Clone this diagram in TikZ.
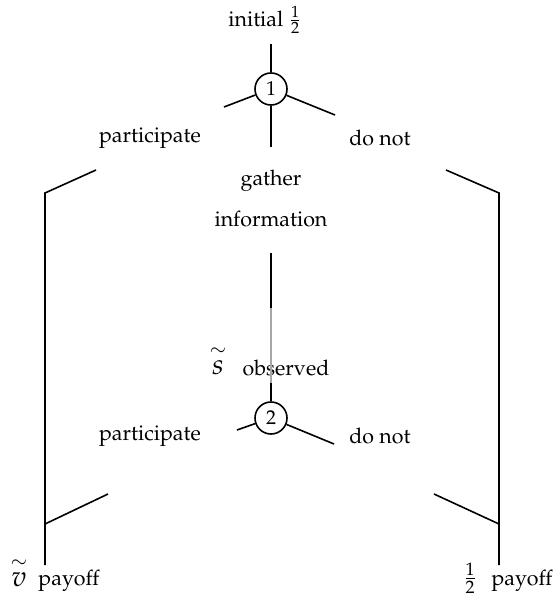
\documentclass[tikz,border=0pt]{standalone}
\usepackage[T1]{fontenc}
\usepackage{mathpazo}
\usepackage{amsmath}
\usetikzlibrary{calc}

\tikzset{chance/.style={draw,circle,thick,minimum size=16pt,inner sep=0pt},
lbl/.style={inner sep=1pt,font=\fontsize{10.7}{13}\selectfont},
big/.style={inner sep=0pt,font=\Large},
branch/.style={thick}}

\begin{document}
\begin{tikzpicture}[x=0.5pt,y=-0.5pt]
\useasboundingbox (0,0) rectangle (557,599);

%chance nodes
\node[chance] (n1) at (271,89) {1};
\node[chance] (n2) at (271,418) {2};

\coordinate (top) at (271,44);
\coordinate (l1) at (224,107); \coordinate (r1) at (335,115); \coordinate (d1) at (271,147);
\coordinate (l2) at (237,430); \coordinate (r2) at (334,444);

\node[lbl] (init) at (265,20) {initial $\frac{1}{2}$};
\node[lbl] (part1) at (150,138) {participate};
\node[lbl] (dont1) at (380,138) {do not};
\node[lbl] (gath) at (271,181) {gather};
\node[lbl] (info) at (271,219) {information};
\node[big] (stil) at (218,360) {$\overset{\sim}{s}$};
\node[lbl] (obs) at (286,368) {observed};
\node[lbl] (part2) at (150,436) {participate};
\node[lbl] (dont2) at (380,436) {do not};
\node[big] (vtil) at (19,572) {$\overset{\sim}{v}$};
\node[lbl] (pay1) at (69,581) {payoff};
\node[lbl,font=\large] (half) at (470,578) {$\frac{1}{2}$};
\node[lbl] (pay2) at (522,581) {payoff};

%first move
\draw[branch] (top) -- (n1);
\draw[branch] (n1) -- (l1); \draw[branch] (n1) -- (r1); \draw[branch] (n1) -- (d1);

%outer legs
\coordinate (lj) at (45,524); \coordinate (rj) at (499,524);
\draw[branch] (96,170) -- (45,193) -- (45,565);
\draw[branch] (446,170) -- (499,193) -- (499,565);
\draw[branch] (108,494) -- (lj);
\draw[branch] (434,494) -- (rj);

%information line
\draw[branch] (271,253) -- (271,308);
\draw[branch,gray!70] (271,308) -- (271,383);
\draw[branch] (271,383) -- (n2);

%second move
\draw[branch] (n2) -- (l2); \draw[branch] (n2) -- (r2);

\end{tikzpicture}
\end{document}
